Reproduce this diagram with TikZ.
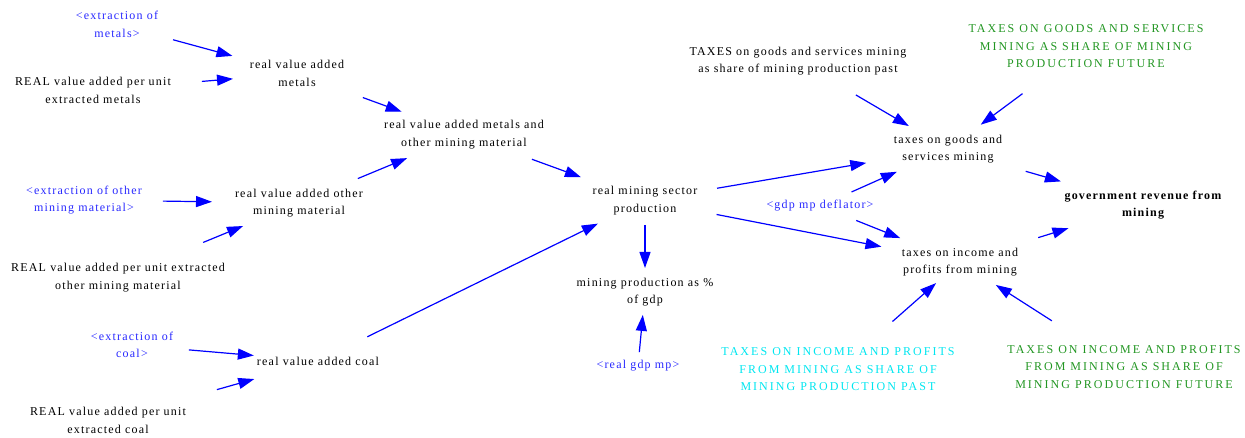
\documentclass[tikz,border=0pt]{standalone}
\usepackage{fontspec}
\setmainfont{Liberation Serif}[LetterSpace=10]
\newfontfamily\capsfont{Liberation Serif}[LetterSpace=17]
\usetikzlibrary{arrows.meta}
\definecolor{vblue}{RGB}{0,0,255}
\definecolor{tblue}{RGB}{40,40,255}
\definecolor{tcyan}{RGB}{0,230,240}
\definecolor{tgreen}{RGB}{34,150,34}
\tikzset{
  lab/.style={align=center, inner sep=0pt, font=\fontsize{12}{17.5}\selectfont},
  shad/.style={lab, text=tblue},
  caps/.style={align=center, inner sep=0pt, font=\capsfont\fontsize{12}{17.5}\selectfont},
  cyanlab/.style={caps, text=tcyan},
  greenlab/.style={caps, text=tgreen},
  boldlab/.style={lab, font=\fontsize{12}{17.5}\selectfont\bfseries},
  arr/.style={draw=vblue, line width=1.2pt, -{Triangle[length=16pt,width=11pt]}}
}
\newcommand{\conn}[4]{\draw[arr, shorten <=#3pt, shorten >=#4pt] (#1.center) -- (#2.center);}
\begin{document}
\begin{tikzpicture}[x=1pt,y=-1pt]
\useasboundingbox (0,0) rectangle (1245,438);
% nodes
\node[shad] (exm) at (117,24.5) {<extraction of\\metals>};
\node[lab] (rvpm) at (93,90.5) {REAL value added per unit\\extracted metals};
\node[lab] (rvm) at (297,73.5) {real value added\\metals};
\node[lab] (rvmo) at (464,134.5) {real value added metals and\\other mining material};
\node[shad] (exo) at (84,200) {<extraction of other\\mining material>};
\node[lab] (rvo) at (299,203) {real value added other\\mining material};
\node[lab] (rvpo) at (118,277.5) {REAL value added per unit extracted\\other mining material};
\node[shad] (exc) at (132,345) {<extraction of\\coal>};
\node[lab] (rvc) at (318,361) {real value added coal};
\node[lab] (rvpc) at (108,420.5) {REAL value added per unit\\extracted coal};
\node[lab] (rms) at (645,200.5) {real mining sector\\production};
\node[lab] (mpg) at (645,292) {mining production as \%\\of gdp};
\node[shad] (rgdp) at (638,366) {<real gdp mp>};
\node[lab] (tgp) at (798,61) {TAXES on goods and services mining\\as share of mining production past};
\node[greenlab] (tgf) at (1086,46.5) {TAXES ON GOODS AND SERVICES\\MINING AS SHARE OF MINING\\PRODUCTION FUTURE};
\node[lab] (tgs) at (948,149) {taxes on goods and\\services mining};
\node[shad] (gdpd) at (820,206) {<gdp mp deflator>};
\node[lab] (tip) at (960,262) {taxes on income and\\profits from mining};
\node[boldlab] (gov) at (1143,205) {government revenue from\\mining};
\node[cyanlab] (tipp) at (838,369.5) {TAXES ON INCOME AND PROFITS\\FROM MINING AS SHARE OF\\MINING PRODUCTION PAST};
\node[greenlab] (tipf) at (1124,367) {TAXES ON INCOME AND PROFITS\\FROM MINING AS SHARE OF\\MINING PRODUCTION FUTURE};
% connectors
\conn{exm}{rvm}{58.1}{66.9}
\conn{rvpm}{rvm}{109.3}{64.2}
\conn{rvm}{rvmo}{70.1}{66.3}
\conn{rvo}{rvmo}{63.7}{61.6}
\conn{exo}{rvo}{79}{87}
\conn{rvpo}{rvo}{92.1}{60.5}
\conn{exc}{rvc}{57.1}{64.4}
\conn{rvpc}{rvc}{113.2}{66.2}
\conn{rvc}{rms}{55}{52.5}
\conn{rvmo}{rms}{72.3}{68.2}
\conn{rms}{mpg}{24.5}{24}
\conn{rgdp}{mpg}{14}{23}
\conn{rms}{tgs}{73.1}{82.9}
\conn{gdpd}{tgs}{34.5}{56}
\conn{rms}{tip}{72.9}{80}
\conn{gdpd}{tip}{39}{64.4}
\conn{tgp}{tgs}{67.1}{45.4}
\conn{tgf}{tgs}{79.1}{40.8}
\conn{tgs}{gov}{80.8}{85.4}
\conn{tip}{gov}{81.9}{78.1}
\conn{tipp}{tip}{72.6}{31.9}
\conn{tipf}{tip}{85.7}{42.5}
\end{tikzpicture}
\end{document}
